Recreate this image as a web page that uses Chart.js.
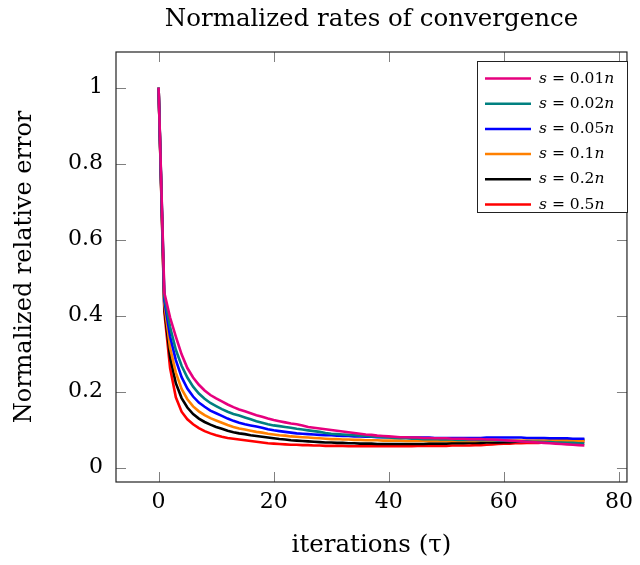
<!DOCTYPE html>
<html><head><meta charset="utf-8">
<script src="https://cdn.jsdelivr.net/npm/chart.js@4"></script>
<style>html,body{margin:0;padding:0;background:#fff}</style>
</head><body>
<canvas id="c" width="640" height="565" style="width:640px;height:565px;display:block"></canvas>
<script>
const titleText = "Normalized rates of convergence";
const xTitle = "iterations (τ)";
const yTitle = "Normalized relative error";
const xTickValues = [0, 20, 40, 60, 80];
const xTickLabels = ["0", "20", "40", "60", "80"];
const yTickValues = [0, 0.2, 0.4, 0.6, 0.8, 1];
const yTickLabels = ["0", "0.2", "0.4", "0.6", "0.8", "1"];
const seriesLabels = ["0.01", "0.02", "0.05", "0.1", "0.2", "0.5"];
const seriesColors = ["#e6007e", "#008080", "#0000ff", "#ff8000", "#000000", "#ff0000"];

const iterations = [0,1,2,3,4,5,6,7,8,9,10,11,12,13,14,15,16,17,18,19,20,21,22,23,24,25,26,27,28,29,30,31,32,33,34,35,36,37,38,39,40,41,42,43,44,45,46,47,48,49,50,51,52,53,54,55,56,57,58,59,60,61,62,63,64,65,66,67,68,69,70,71,72,73,74];

const s001 = [1.000,0.460,0.395,0.345,0.298,0.262,0.237,0.218,0.203,0.191,
0.182,0.174,0.166,0.159,0.153,0.148,0.143,0.138,0.134,0.129,
0.125,0.122,0.119,0.116,0.114,0.111,0.107,0.105,0.103,0.101,
0.099,0.097,0.095,0.093,0.091,0.089,0.087,0.086,0.084,0.083,
0.082,0.081,0.080,0.080,0.079,0.079,0.078,0.078,0.077,0.077,
0.077,0.076,0.076,0.076,0.075,0.075,0.075,0.074,0.074,0.073,
0.072,0.071,0.070,0.069,0.068,0.067,0.066,0.065,0.064,0.063,
0.062,0.061,0.060,0.059,0.058];
const s002 = [1.000,0.450,0.370,0.310,0.268,0.237,0.213,0.195,0.181,0.170,
0.162,0.154,0.147,0.141,0.137,0.132,0.127,0.122,0.118,0.114,
0.111,0.109,0.107,0.105,0.102,0.100,0.098,0.096,0.094,0.091,
0.089,0.088,0.087,0.086,0.085,0.084,0.083,0.082,0.081,0.080,
0.079,0.078,0.077,0.077,0.076,0.076,0.075,0.075,0.075,0.074,
0.074,0.074,0.073,0.073,0.073,0.073,0.072,0.072,0.072,0.071,
0.071,0.070,0.070,0.069,0.069,0.068,0.068,0.067,0.067,0.066,
0.066,0.065,0.065,0.064,0.063];
const s005 = [1.000,0.440,0.345,0.283,0.238,0.208,0.187,0.171,0.160,0.150,
0.143,0.136,0.129,0.123,0.118,0.114,0.111,0.108,0.105,0.101,
0.098,0.096,0.094,0.092,0.090,0.089,0.088,0.087,0.086,0.085,
0.085,0.084,0.083,0.083,0.082,0.082,0.081,0.081,0.080,0.080,
0.080,0.080,0.079,0.079,0.079,0.079,0.079,0.079,0.078,0.078,
0.078,0.078,0.078,0.078,0.078,0.078,0.078,0.079,0.079,0.079,
0.079,0.079,0.079,0.079,0.078,0.078,0.078,0.078,0.077,0.077,
0.077,0.077,0.076,0.076,0.076];
const s01 = [1.000,0.430,0.315,0.250,0.207,0.180,0.161,0.148,0.138,0.130,
0.124,0.118,0.112,0.107,0.103,0.100,0.097,0.094,0.092,0.089,
0.087,0.085,0.084,0.082,0.081,0.080,0.079,0.078,0.077,0.076,
0.075,0.075,0.074,0.074,0.073,0.073,0.072,0.072,0.072,0.071,
0.071,0.071,0.071,0.070,0.070,0.070,0.070,0.070,0.070,0.070,
0.070,0.070,0.070,0.070,0.070,0.070,0.071,0.071,0.071,0.071,
0.071,0.071,0.071,0.071,0.071,0.071,0.071,0.071,0.071,0.071,
0.071,0.071,0.071,0.070,0.070];
const s02 = [1.000,0.420,0.290,0.222,0.183,0.158,0.141,0.129,0.120,0.113,
0.107,0.102,0.097,0.093,0.090,0.088,0.085,0.083,0.081,0.079,
0.077,0.075,0.074,0.072,0.071,0.070,0.069,0.068,0.067,0.066,
0.066,0.065,0.065,0.064,0.064,0.063,0.063,0.063,0.062,0.062,
0.062,0.062,0.062,0.062,0.062,0.062,0.062,0.063,0.063,0.063,
0.063,0.064,0.064,0.064,0.065,0.065,0.065,0.066,0.066,0.066,
0.067,0.067,0.068,0.068,0.069,0.069,0.070,0.070,0.071,0.071,
0.072,0.072,0.073,0.073,0.074];
const s05 = [1.000,0.410,0.262,0.185,0.147,0.127,0.114,0.104,0.096,0.090,
0.085,0.081,0.078,0.076,0.074,0.072,0.070,0.068,0.066,0.064,
0.063,0.062,0.061,0.060,0.060,0.059,0.059,0.058,0.058,0.057,
0.057,0.057,0.057,0.056,0.056,0.056,0.056,0.056,0.056,0.056,
0.056,0.056,0.056,0.056,0.056,0.057,0.057,0.057,0.057,0.057,
0.057,0.058,0.058,0.058,0.058,0.059,0.059,0.060,0.061,0.062,
0.063,0.063,0.064,0.064,0.065,0.065,0.065,0.066,0.066,0.066,
0.067,0.067,0.067,0.068,0.068];

const seriesValues = [s001, s002, s005, s01, s02, s05];
const FONT = "'DejaVu Serif', 'Liberation Serif', serif";

const decor = {
  id: 'decor',
  afterDraw(chart) {
    const ctx = chart.ctx;
    const a = chart.chartArea;
    const xs = chart.scales.x, ys = chart.scales.y;
    ctx.save();
    ctx.strokeStyle = '#808080';
    ctx.lineWidth = 1;
    const TL = 10;
    ctx.beginPath();
    xTickValues.forEach(v => {
      const px = Math.round(xs.getPixelForValue(v)) + 0.5;
      ctx.moveTo(px, a.bottom); ctx.lineTo(px, a.bottom - TL);
      ctx.moveTo(px, a.top); ctx.lineTo(px, a.top + TL);
    });
    yTickValues.forEach(v => {
      const py = Math.round(ys.getPixelForValue(v)) + 0.5;
      ctx.moveTo(a.left, py); ctx.lineTo(a.left + TL, py);
      ctx.moveTo(a.right, py); ctx.lineTo(a.right - TL, py);
    });
    ctx.stroke();
    ctx.strokeStyle = '#222';
    ctx.lineWidth = 1.2;
    ctx.strokeRect(a.left, a.top, a.right - a.left, a.bottom - a.top);
    ctx.fillStyle = '#000';
    ctx.font = "24.5px " + FONT;
    ctx.textAlign = 'center';
    ctx.textBaseline = 'alphabetic';
    ctx.fillText(titleText, (a.left + a.right) / 2, 26);
    const bx = 477, by = 61, bw = 150, bh = 151;
    ctx.fillStyle = '#fff';
    ctx.fillRect(bx, by, bw, bh);
    ctx.strokeStyle = '#222';
    ctx.lineWidth = 1;
    ctx.strokeRect(bx + 0.5, by + 0.5, bw, bh);
    chart.data.datasets.forEach((ds, i) => {
      const yy = 78.5 + i * 25.2;
      ctx.strokeStyle = ds.borderColor;
      ctx.lineWidth = 2.5;
      ctx.beginPath(); ctx.moveTo(485, yy); ctx.lineTo(531, yy); ctx.stroke();
      ctx.fillStyle = '#000';
      ctx.textAlign = 'left';
      ctx.textBaseline = 'middle';
      let x = 539;
      ctx.font = "italic 15.5px " + FONT;
      ctx.fillText("s", x, yy); x += ctx.measureText("s").width;
      ctx.font = "15.5px " + FONT;
      const mid = " = " + seriesLabels[i];
      ctx.fillText(mid, x, yy); x += ctx.measureText(mid).width;
      ctx.font = "italic 15.5px " + FONT;
      ctx.fillText("n", x, yy);
    });
    ctx.restore();
  }
};

new Chart(document.getElementById('c'), {
  type: 'line',
  data: {
    labels: iterations,
    datasets: seriesValues.map((vals, i) => ({
      label: "s = " + seriesLabels[i] + "n",
      data: vals.map((v, j) => ({x: iterations[j], y: v})),
      borderColor: seriesColors[i],
      backgroundColor: seriesColors[i],
      borderWidth: 2.6,
      pointRadius: 0,
      tension: 0,
      fill: false
    }))
  },
  options: {
    responsive: false,
    animation: false,
    devicePixelRatio: 1,
    layout: { padding: { top: 52, right: 6, left: 0, bottom: 0 } },
    plugins: { legend: { display: false }, title: { display: false }, tooltip: { enabled: false } },
    scales: {
      x: {
        type: 'linear', min: -7.4, max: 81.4,
        afterBuildTicks: s => { s.ticks = xTickValues.map(v => ({value: v})); },
        afterFit: s => { s.height = 83; },
        grid: { display: false, drawTicks: false },
        border: { display: false },
        ticks: { color: '#000', font: { family: FONT, size: 22 }, padding: 7, maxRotation: 0,
                 callback: (v, i) => xTickLabels[i] },
        title: { display: true, text: xTitle, color: '#000', font: { family: FONT, size: 24.5 }, padding: { top: 0, bottom: 5 } }
      },
      y: {
        type: 'linear', min: -0.038, max: 1.094,
        afterBuildTicks: s => { s.ticks = yTickValues.map(v => ({value: v})); },
        afterFit: s => { s.width = 116; },
        grid: { display: false, drawTicks: false },
        border: { display: false },
        ticks: { color: '#000', font: { family: FONT, size: 22 }, padding: 13,
                 callback: (v, i) => yTickLabels[i] },
        title: { display: true, text: yTitle, color: '#000', font: { family: FONT, size: 24 }, padding: { top: 10, bottom: 0 } }
      }
    }
  },
  plugins: [decor]
});
</script>
</body></html>
